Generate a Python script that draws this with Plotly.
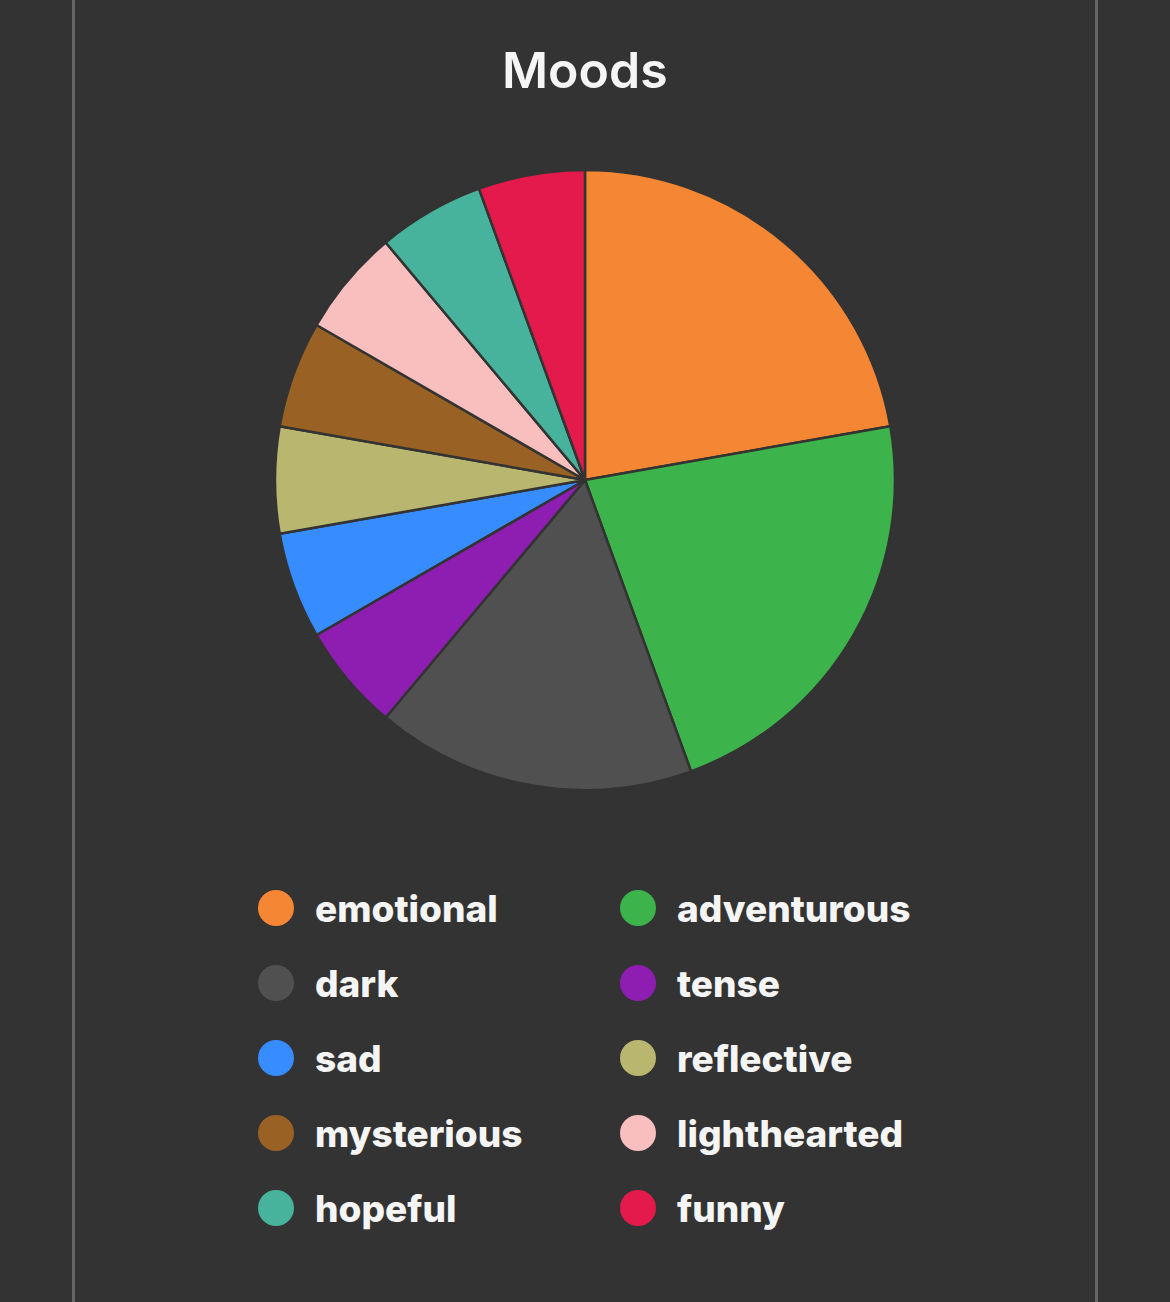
import plotly.graph_objects as go

W, H = 1170, 1302

labels = ["emotional", "adventurous", "dark", "tense", "sad", "reflective",
          "mysterious", "lighthearted", "hopeful", "funny"]
counts = [4, 4, 3, 1, 1, 1, 1, 1, 1, 1]
colors = ["#F58634", "#3CB44B", "#505050", "#8E1EB1", "#378CFF", "#B9B76F",
          "#996224", "#F9BEBE", "#47B39C", "#E31A4B"]
title_text = "Moods"

BG = "#333333"
TXT = "#F5F5F5"
FONT = "Inter"

def px_x(x):
    return x / W

def px_y(y):
    return 1 - y / H

cx, cy, r = 585, 480, 310

fig = go.Figure()
fig.add_trace(go.Pie(
    labels=labels, values=counts, sort=False, direction="clockwise", rotation=0,
    marker=dict(colors=colors, line=dict(color=BG, width=2.5)),
    textinfo="none", hoverinfo="label+value", showlegend=False,
    domain=dict(x=[px_x(cx - r), px_x(cx + r)], y=[px_y(cy + r), px_y(cy - r)]),
))

shapes = []
annotations = []

# card borders
for bx in (73.5, 1096.5):
    shapes.append(dict(type="line", xref="paper", yref="paper",
                       x0=px_x(bx), x1=px_x(bx), y0=0, y1=1,
                       line=dict(color="#666666", width=3)))

# title
annotations.append(dict(text=title_text, xref="paper", yref="paper",
                        x=px_x(585), y=px_y(70), xanchor="center", yanchor="middle",
                        showarrow=False,
                        font=dict(family=FONT, size=50, color=TXT, weight=600)))

# custom legend (two columns, row-major)
col_cx = [276, 638]
row0, row_step, rad = 908, 75, 18
for i, (lab, col) in enumerate(zip(labels, colors)):
    c = i % 2
    rr = i // 2
    mx = col_cx[c]
    my = row0 + rr * row_step
    shapes.append(dict(type="circle", xref="paper", yref="paper",
                       x0=px_x(mx - rad), x1=px_x(mx + rad),
                       y0=px_y(my + rad), y1=px_y(my - rad),
                       fillcolor=col, line=dict(width=0)))
    annotations.append(dict(text=lab, xref="paper", yref="paper",
                            x=px_x(mx + 37), y=px_y(my + 0.5), xanchor="left", yanchor="middle",
                            showarrow=False,
                            font=dict(family=FONT, size=37, color=TXT, weight=800)))

fig.update_layout(
    width=W, height=H, autosize=False,
    margin=dict(l=0, r=0, t=0, b=0),
    paper_bgcolor=BG, plot_bgcolor=BG,
    shapes=shapes, annotations=annotations,
    showlegend=False,
)

fig.write_html("out.html", config={"displayModeBar": False})
